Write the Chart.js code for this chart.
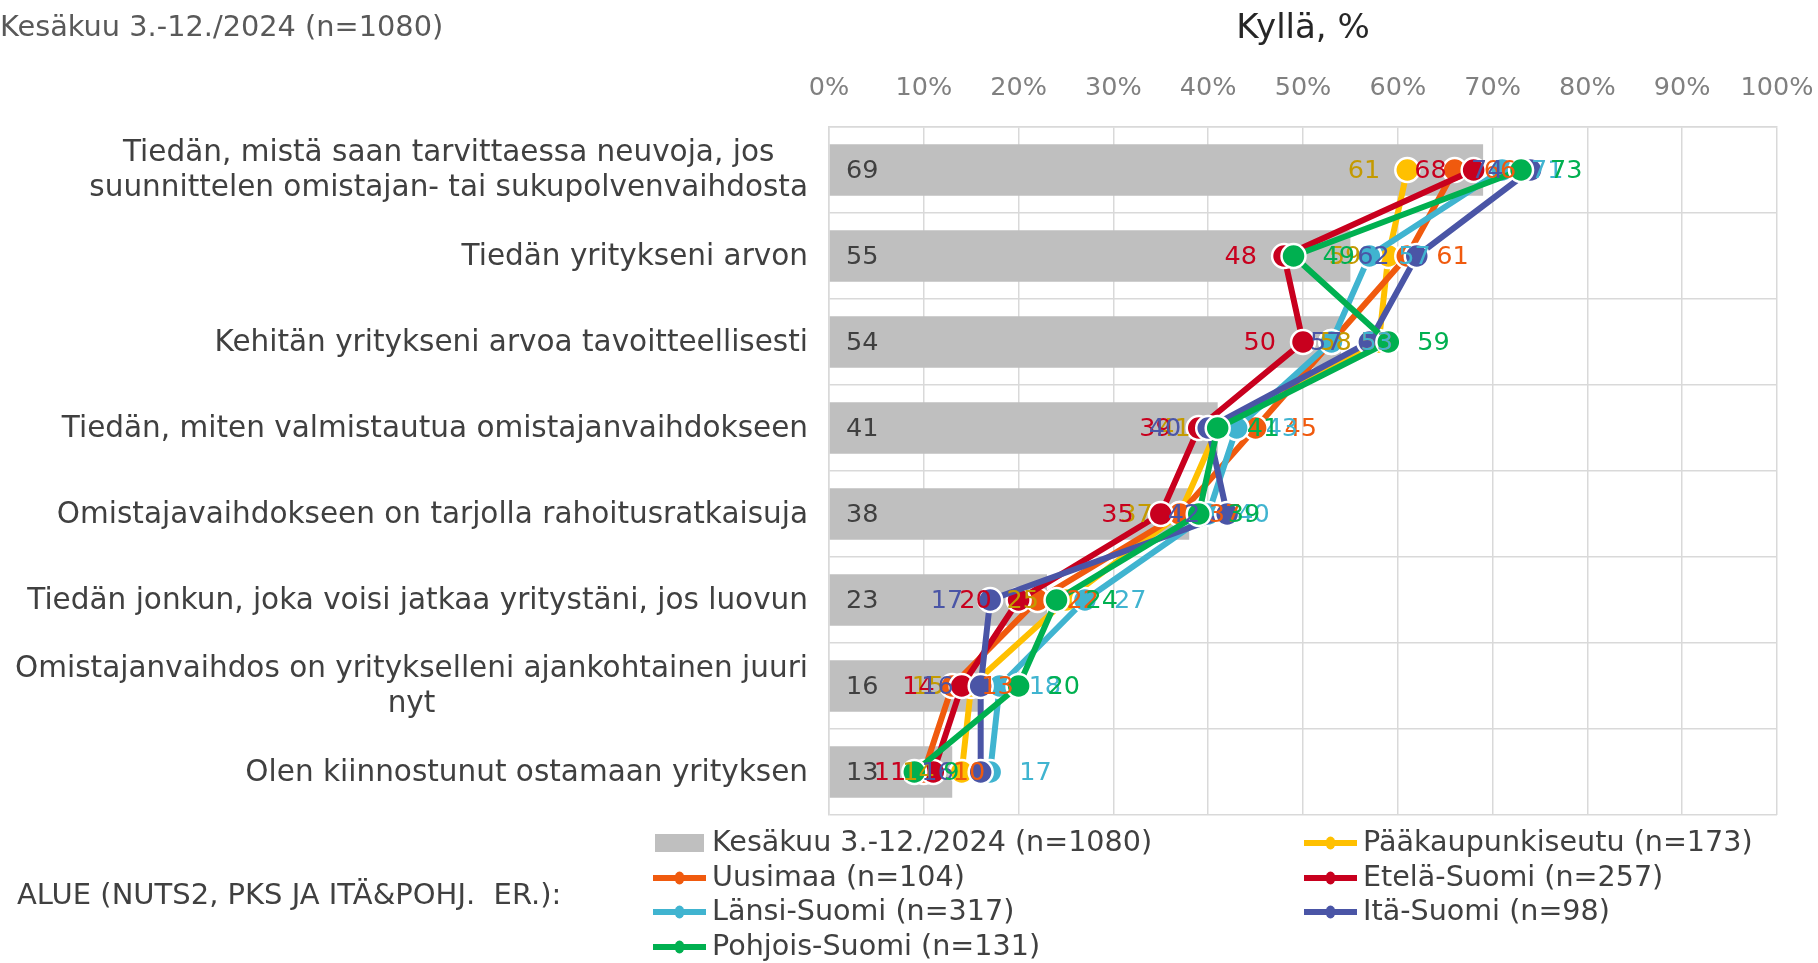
<!DOCTYPE html>
<html><head><meta charset="utf-8">
<script src="https://cdn.jsdelivr.net/npm/chart.js@4"></script>
<style>html,body{margin:0;padding:0;background:#fff;overflow:hidden}#wrap{width:1818px;height:963px;position:relative}</style>
</head><body><div id="wrap"><canvas id="c" width="1818" height="963"></canvas></div>
<script>
const categories = [
  ["Tiedän, mistä saan tarvittaessa neuvoja, jos", "suunnittelen omistajan- tai sukupolvenvaihdosta"],
  ["Tiedän yritykseni arvon"],
  ["Kehitän yritykseni arvoa tavoitteellisesti"],
  ["Tiedän, miten valmistautua omistajanvaihdokseen"],
  ["Omistajavaihdokseen on tarjolla rahoitusratkaisuja"],
  ["Tiedän jonkun, joka voisi jatkaa yritystäni, jos luovun"],
  ["Omistajanvaihdos on yritykselleni ajankohtainen juuri", "nyt"],
  ["Olen kiinnostunut ostamaan yrityksen"]
];
const totalLabel = "Kesäkuu 3.-12./2024 (n=1080)";
const totalValues = [69, 55, 54, 41, 38, 23, 16, 13];
const paakaupunkiseutu = [61, 59, 58, 41, 37, 25, 15, 14];
const uusimaa = [66, 61, 53, 45, 37, 22, 13, 10];
const etelaSuomi = [68, 48, 50, 39, 35, 20, 14, 11];
const lansiSuomi = [71, 57, 53, 43, 40, 27, 18, 17];
const itaSuomi = [74, 62, 57, 40, 42, 17, 16, 16];
const pohjoisSuomi = [73, 49, 59, 41, 39, 24, 20, 9];
const seriesNames = ["Pääkaupunkiseutu (n=173)", "Uusimaa (n=104)", "Etelä-Suomi (n=257)", "Länsi-Suomi (n=317)", "Itä-Suomi (n=98)", "Pohjois-Suomi (n=131)"];
const xTickValues = [0, 10, 20, 30, 40, 50, 60, 70, 80, 90, 100];
const chartTitle = "Kyllä, %";
const legendTitle = "ALUE (NUTS2, PKS JA ITÄ&POHJ.  ER.):";

const FONT = "'DejaVu Sans', Verdana, sans-serif";
const seriesData = [paakaupunkiseutu, uusimaa, etelaSuomi, lansiSuomi, itaSuomi, pohjoisSuomi];
const seriesColors = ["#FFC000", "#F05A0E", "#C8001E", "#40B4D0", "#4A55A6", "#00B050"];
const labelColors = ["#C49A00", "#F05A0E", "#C8001E", "#40B4D0", "#4A55A6", "#00B050"];
const labelSide = ["left", "right", "left", "right", "left", "right"];

const datasets = [{
  type: 'bar', label: totalLabel, data: totalValues, indexAxis: 'y',
  backgroundColor: '#BFBFBF', barPercentage: 0.6, categoryPercentage: 1, order: 10
}];
seriesData.forEach((d, i) => {
  datasets.push({
    type: 'line', label: seriesNames[i], data: d, indexAxis: 'y',
    borderColor: seriesColors[i], backgroundColor: seriesColors[i],
    borderWidth: 6, tension: 0, fill: false,
    pointRadius: 12, pointBorderWidth: 2.5, pointBorderColor: '#FFFFFF',
    pointBackgroundColor: seriesColors[i], order: 6 - i
  });
});

const extras = {
  id: 'extras',
  afterDatasetsDraw(chart) {
    const ctx = chart.ctx;
    ctx.save();
    ctx.font = "25.5px " + FONT;
    ctx.textBaseline = 'middle';
    const xs = chart.scales.x;
    const bm = chart.getDatasetMeta(0);
    bm.data.forEach((el, i) => {
      ctx.fillStyle = '#404040';
      ctx.textAlign = 'left';
      ctx.fillText(String(totalValues[i]), xs.getPixelForValue(0) + 17, el.y + 1);
    });
    for (let s = 0; s < seriesData.length; s++) {
      const meta = chart.getDatasetMeta(s + 1);
      meta.data.forEach((el, i) => {
        ctx.fillStyle = labelColors[s];
        if (labelSide[s] === 'left') { ctx.textAlign = 'right'; ctx.fillText(String(seriesData[s][i]), el.x - 27, el.y + 1); }
        else { ctx.textAlign = 'left'; ctx.fillText(String(seriesData[s][i]), el.x + 29, el.y + 1); }
      });
    }
    ctx.restore();
  },
  afterDraw(chart) {
    const ctx = chart.ctx;
    const ys = chart.scales.y;
    ctx.save();
    ctx.textBaseline = 'middle';
    ctx.font = "29.5px " + FONT;
    ctx.fillStyle = '#404040';
    categories.forEach((lines, i) => {
      const y = ys.getPixelForValue(i);
      const w = Math.max(...lines.map(l => ctx.measureText(l).width));
      const cx = 808 - w / 2;
      ctx.textAlign = 'center';
      lines.forEach((l, j) => ctx.fillText(l, cx, y + (j - (lines.length - 1) / 2) * 35 + 1));
    });
    ctx.textAlign = 'left';
    ctx.font = "28.8px " + FONT;
    ctx.fillStyle = '#595959';
    ctx.fillText(totalLabel, 0, 29);
    ctx.textAlign = 'center';
    ctx.font = "34px " + FONT;
    ctx.fillStyle = '#262626';
    ctx.fillText(chartTitle, (chart.chartArea.left + chart.chartArea.right) / 2, 29);
    ctx.textAlign = 'left';
    ctx.font = "29px " + FONT;
    ctx.fillStyle = '#404040';
    ctx.fillText(legendTitle, 17, 896);
    const items = [{name: totalLabel, bar: true}];
    seriesNames.forEach((n, i) => items.push({name: n, color: seriesColors[i]}));
    const colX = [655, 1306];
    const rowY = [843, 878, 912, 947];
    items.forEach((it, k) => {
      const col = k % 2, row = Math.floor(k / 2);
      const x = colX[col], y = rowY[row];
      if (it.bar) {
        ctx.fillStyle = '#BFBFBF';
        ctx.fillRect(x, y - 9, 49, 18);
      } else {
        ctx.strokeStyle = it.color; ctx.lineWidth = 6; ctx.lineCap = 'butt';
        ctx.beginPath(); ctx.moveTo(x - 2, y); ctx.lineTo(x + 51, y); ctx.stroke();
        ctx.fillStyle = it.color;
        ctx.beginPath(); ctx.ellipse(x + 24.5, y, 5, 6.5, 0, 0, Math.PI * 2); ctx.fill();
      }
      ctx.fillStyle = '#404040';
      ctx.font = "28.6px " + FONT;
      ctx.textAlign = 'left';
      ctx.fillText(it.name, x + 57, y + 1);
    });
    ctx.restore();
  }
};

new Chart(document.getElementById('c'), {
  type: 'bar',
  data: { labels: categories.map(c => c.join(' ')), datasets },
  options: {
    indexAxis: 'y',
    responsive: false,
    animation: false,
    devicePixelRatio: 1,
    layout: { padding: { left: 0, right: 41, top: 0, bottom: 148 } },
    plugins: { legend: { display: false }, tooltip: { enabled: false } },
    scales: {
      x: {
        position: 'top', min: 0, max: 100,
        afterFit: s => { s.height = 127; s.paddingLeft = 0; s.paddingRight = 0; },
        afterBuildTicks: s => { s.ticks = xTickValues.map(v => ({ value: v })); },
        ticks: { callback: v => v + '%', color: '#808080', font: { family: FONT, size: 25.5 }, padding: 23, maxRotation: 0 },
        grid: { color: '#D9D9D9', lineWidth: 1.5, drawTicks: false },
        border: { color: '#D9D9D9', width: 1.5 }
      },
      y: {
        afterFit: s => { s.width = 829; s.paddingTop = 0; s.paddingBottom = 0; },
        ticks: { display: false },
        grid: { color: '#D9D9D9', lineWidth: 1.5, drawTicks: false, offset: true },
        border: { color: '#D9D9D9', width: 1.5 }
      }
    }
  },
  plugins: [extras]
});
</script></body></html>
